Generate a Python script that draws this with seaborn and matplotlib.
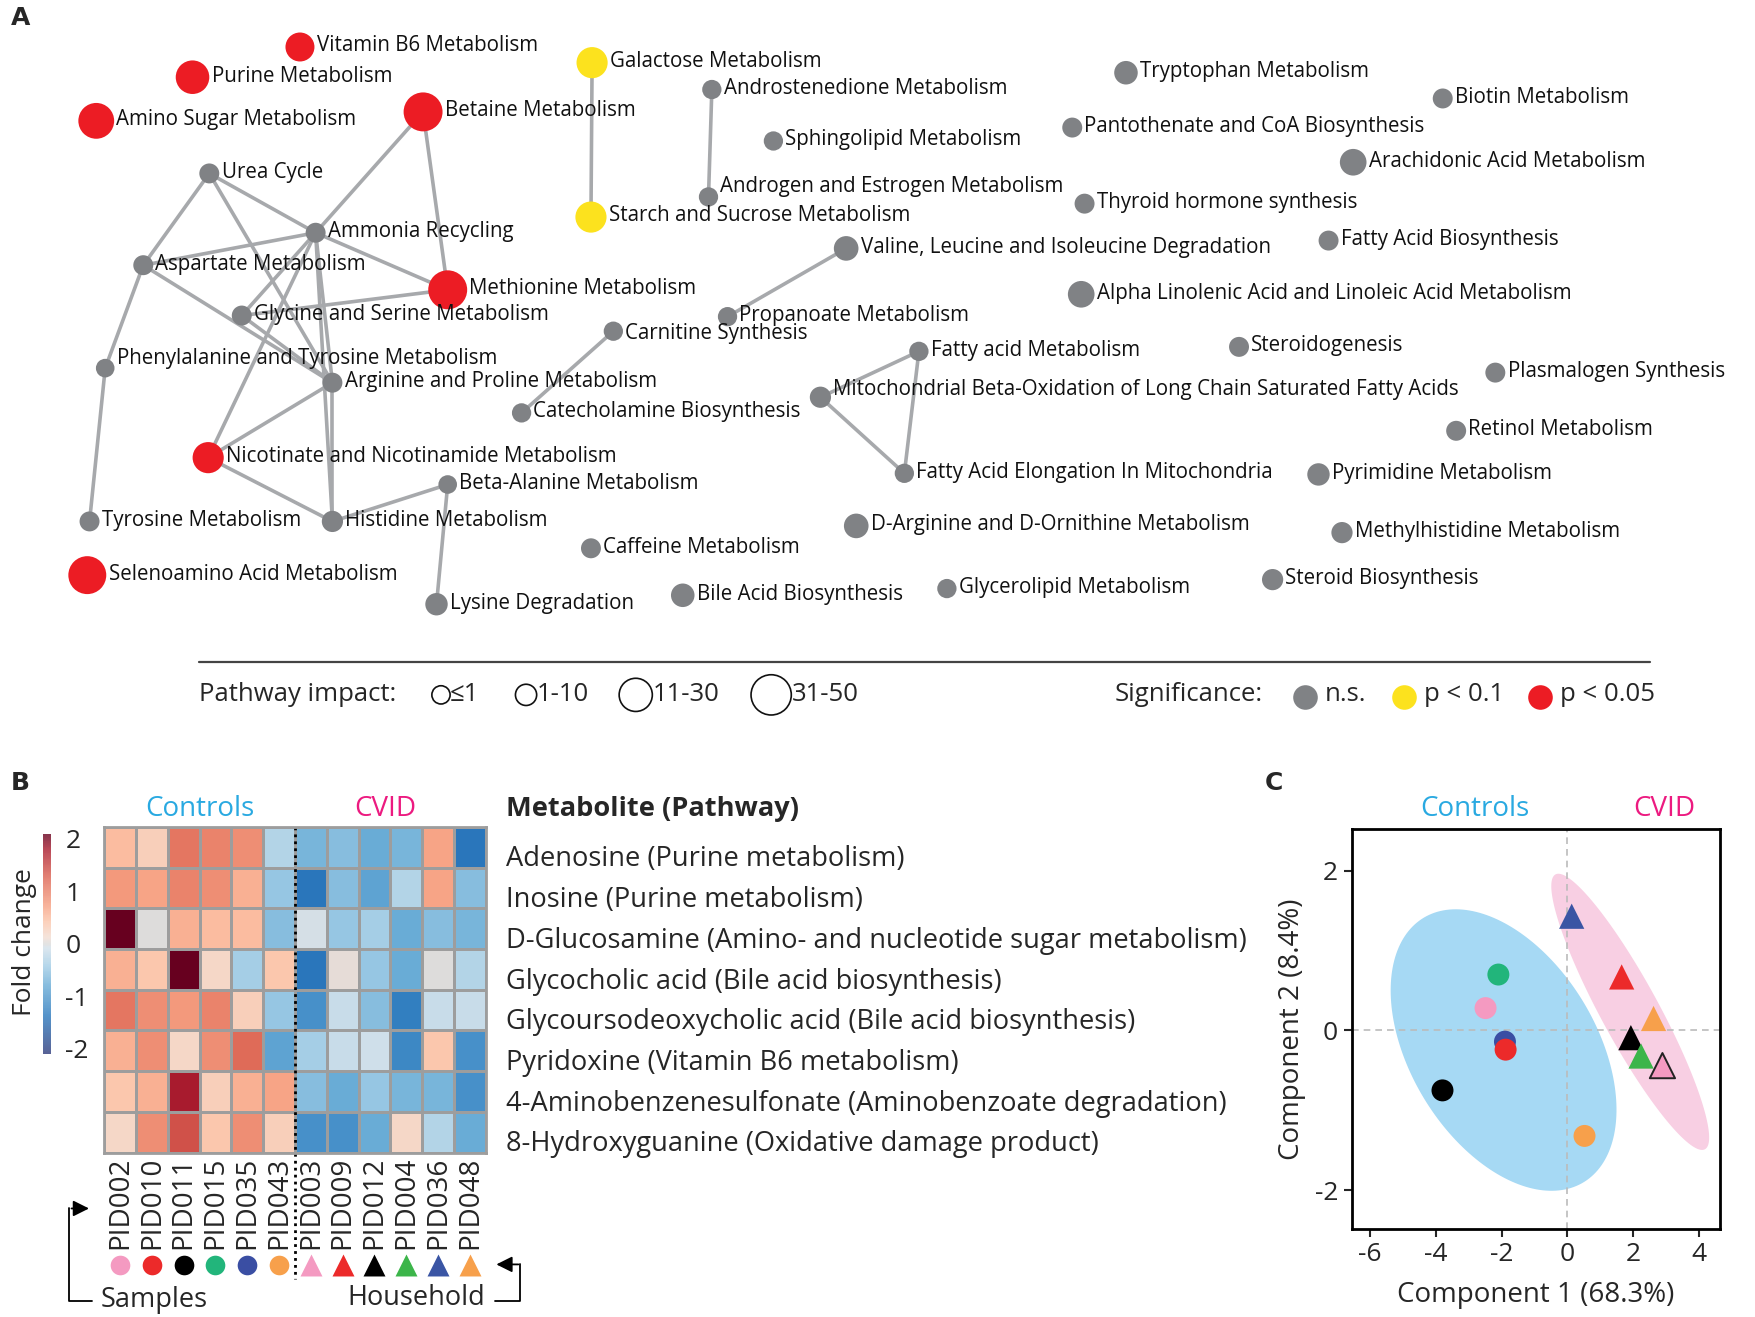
import numpy as np
import pandas as pd
import matplotlib
matplotlib.use("Agg")
import matplotlib.pyplot as plt
from matplotlib.colors import LinearSegmentedColormap
import seaborn as sns

# ---------------- panel A: pathway network ----------------
node_names = ["Vitamin B6 Metabolism", "Purine Metabolism", "Amino Sugar Metabolism", "Betaine Metabolism",
              "Methionine Metabolism", "Nicotinate and Nicotinamide Metabolism", "Selenoamino Acid Metabolism",
              "Galactose Metabolism", "Starch and Sucrose Metabolism",
              "Urea Cycle", "Ammonia Recycling", "Aspartate Metabolism", "Glycine and Serine Metabolism",
              "Phenylalanine and Tyrosine Metabolism", "Arginine and Proline Metabolism", "Tyrosine Metabolism",
              "Histidine Metabolism", "Beta-Alanine Metabolism", "Lysine Degradation", "Caffeine Metabolism",
              "Bile Acid Biosynthesis", "Carnitine Synthesis", "Catecholamine Biosynthesis",
              "Androstenedione Metabolism", "Sphingolipid Metabolism", "Androgen and Estrogen Metabolism",
              "Valine, Leucine and Isoleucine Degradation", "Propanoate Metabolism", "Fatty acid Metabolism",
              "Mitochondrial Beta-Oxidation of Long Chain Saturated Fatty Acids",
              "Fatty Acid Elongation In Mitochondria", "D-Arginine and D-Ornithine Metabolism",
              "Glycerolipid Metabolism", "Tryptophan Metabolism", "Pantothenate and CoA Biosynthesis",
              "Thyroid hormone synthesis", "Alpha Linolenic Acid and Linoleic Acid Metabolism", "Steroidogenesis",
              "Biotin Metabolism", "Arachidonic Acid Metabolism", "Fatty Acid Biosynthesis",
              "Plasmalogen Synthesis", "Retinol Metabolism", "Pyrimidine Metabolism",
              "Methylhistidine Metabolism", "Steroid Biosynthesis"]
node_x = [268, 172, 86, 378, 400, 186, 78, 529, 528, 187, 282, 128, 216, 94, 297, 80, 297, 400, 390, 528,
          610, 548, 466, 636, 691, 633, 756, 650, 821, 733, 808, 765, 846, 1006, 958, 969, 966, 1107, 1289,
          1209, 1187, 1336, 1301, 1178, 1199, 1137]
node_y = [42, 69, 108, 100, 259, 409, 514, 56, 194, 155, 208, 237, 282, 329, 342, 466, 466, 433, 540, 490,
          532, 296, 369, 80, 126, 176, 222, 283, 314, 355, 423, 470, 526, 65, 114, 182, 263, 310, 88, 145,
          215, 333, 385, 424, 476, 518]
node_impact = [20, 31, 37, 46, 46, 25, 43, 25, 25, 3, 3, 3, 3, 1, 3, 3, 5, 1, 7, 3,
               9, 2, 2, 2, 2, 2, 11, 2, 2, 5, 2, 11, 2, 9, 3, 3, 15, 3, 3, 15,
               3, 3, 3, 7, 5, 5]
node_sig = ["p < 0.05"] * 7 + ["p < 0.1"] * 2 + ["n.s."] * 37
edges = [("Galactose Metabolism", "Starch and Sucrose Metabolism"),
         ("Androstenedione Metabolism", "Androgen and Estrogen Metabolism"),
         ("Carnitine Synthesis", "Catecholamine Biosynthesis"),
         ("Valine, Leucine and Isoleucine Degradation", "Propanoate Metabolism"),
         ("Fatty acid Metabolism", "Mitochondrial Beta-Oxidation of Long Chain Saturated Fatty Acids"),
         ("Mitochondrial Beta-Oxidation of Long Chain Saturated Fatty Acids", "Fatty Acid Elongation In Mitochondria"),
         ("Fatty acid Metabolism", "Fatty Acid Elongation In Mitochondria"),
         ("Beta-Alanine Metabolism", "Histidine Metabolism"),
         ("Beta-Alanine Metabolism", "Lysine Degradation"),
         ("Betaine Metabolism", "Ammonia Recycling"),
         ("Betaine Metabolism", "Methionine Metabolism"),
         ("Urea Cycle", "Aspartate Metabolism"),
         ("Urea Cycle", "Ammonia Recycling"),
         ("Urea Cycle", "Arginine and Proline Metabolism"),
         ("Ammonia Recycling", "Aspartate Metabolism"),
         ("Ammonia Recycling", "Methionine Metabolism"),
         ("Ammonia Recycling", "Glycine and Serine Metabolism"),
         ("Ammonia Recycling", "Arginine and Proline Metabolism"),
         ("Ammonia Recycling", "Histidine Metabolism"),
         ("Ammonia Recycling", "Nicotinate and Nicotinamide Metabolism"),
         ("Aspartate Metabolism", "Phenylalanine and Tyrosine Metabolism"),
         ("Aspartate Metabolism", "Arginine and Proline Metabolism"),
         ("Glycine and Serine Metabolism", "Methionine Metabolism"),
         ("Glycine and Serine Metabolism", "Arginine and Proline Metabolism"),
         ("Phenylalanine and Tyrosine Metabolism", "Tyrosine Metabolism"),
         ("Arginine and Proline Metabolism", "Nicotinate and Nicotinamide Metabolism"),
         ("Arginine and Proline Metabolism", "Histidine Metabolism"),
         ("Nicotinate and Nicotinamide Metabolism", "Histidine Metabolism")]
impact_labels = ["\u22641", "1-10", "11-30", "31-50"]
impact_legend_values = [0.5, 5, 30, 50]
sig_levels = ["n.s.", "p < 0.1", "p < 0.05"]
sig_colors = {"n.s.": "#808285", "p < 0.1": "#fce21e", "p < 0.05": "#ec1c24"}

# ---------------- panel B: heatmap ----------------
metabolites = ["Adenosine (Purine metabolism)", "Inosine (Purine metabolism)",
               "D-Glucosamine (Amino- and nucleotide sugar metabolism)", "Glycocholic acid (Bile acid biosynthesis)",
               "Glycoursodeoxycholic acid (Bile acid biosynthesis)", "Pyridoxine (Vitamin B6 metabolism)",
               "4-Aminobenzenesulfonate (Aminobenzoate degradation)", "8-Hydroxyguanine (Oxidative damage product)"]
samples = ["PID002", "PID010", "PID011", "PID015", "PID035", "PID043",
           "PID003", "PID009", "PID012", "PID004", "PID036", "PID048"]
sample_group = ["Controls"] * 6 + ["CVID"] * 6
sample_colors = ["#f49ac1", "#ec2a2a", "#000000", "#22b57b", "#3a4ea3", "#f7a04b",
                 "#f49ac1", "#ec2a2a", "#000000", "#3cb54a", "#3a55a4", "#f7a04b"]
fold_change = [
    [0.5, 0.3, 1.1, 1.0, 0.9, -0.3, -0.7, -0.6, -0.8, -0.7, 0.7, -1.4],
    [0.8, 0.7, 1.0, 0.9, 0.6, -0.5, -1.4, -0.6, -0.9, -0.3, 0.7, -0.6],
    [2.4, 0.0, 0.6, 0.5, 0.5, -0.6, -0.05, -0.5, -0.4, -0.8, -0.6, -0.7],
    [0.6, 0.4, 2.2, 0.2, -0.4, 0.4, -1.4, 0.05, -0.5, -0.8, 0.0, -0.3],
    [1.1, 0.9, 0.8, 1.0, 0.3, -0.5, -1.1, -0.15, -0.6, -1.3, -0.15, -0.15],
    [0.6, 0.9, 0.2, 0.9, 1.2, -0.9, -0.4, -0.15, -0.1, -1.2, 0.4, -1.1],
    [0.4, 0.6, 1.8, 0.3, 0.6, 0.7, -0.6, -0.8, -0.5, -0.7, -0.7, -1.1],
    [0.2, 0.9, 1.4, 0.4, 0.9, 0.3, -1.1, -1.1, -0.8, 0.2, -0.3, -0.8],
]

# ---------------- panel C: PCA ----------------
pca_samples = ["PID002", "PID011", "PID015", "PID035", "PID010", "PID043",
               "PID036", "PID009", "PID048", "PID012", "PID004", "PID003"]
pca_pc1 = [-2.49, -3.80, -2.10, -1.90, -1.88, 0.52, 0.13, 1.65, 2.62, 1.93, 2.24, 2.89]
pca_pc2 = [0.28, -0.75, 0.70, -0.14, -0.24, -1.32, 1.43, 0.67, 0.15, -0.09, -0.32, -0.44]

sns.set_theme(style="white")
plt.rcParams["font.family"] = ["Open Sans", "DejaVu Sans"]
plt.rcParams["axes.unicode_minus"] = False

W, H = 1568, 1177  # layout grid in reference pixels
fig = plt.figure(figsize=(17.55, 13.17), dpi=100)

# background axes in pixel units, used for panel A and free annotations
axA = fig.add_axes([0, 0, 1, 1])
axA.set_xlim(0, W)
axA.set_ylim(H, 0)
axA.axis("off")


def node_radius(imp):
    # matches seaborn sizes=(166, 840), size_norm=(0, 50)
    return np.sqrt(166 + 674 * np.asarray(imp) / 50) / 1.61


nodes = pd.DataFrame({"name": node_names, "x": node_x, "y": node_y,
                      "impact": node_impact, "sig": node_sig})
pos = nodes.set_index("name")

for a, b in edges:
    axA.plot([pos.loc[a, "x"], pos.loc[b, "x"]], [pos.loc[a, "y"], pos.loc[b, "y"]],
             color="#a7a9ac", lw=2.6, zorder=1, solid_capstyle="round")

sns.scatterplot(data=nodes, x="x", y="y", hue="sig", palette=sig_colors, size="impact",
                sizes=(166, 840), size_norm=(0, 50), linewidth=0, legend=False, ax=axA, zorder=2)
axA.set_xlim(0, W)
axA.set_ylim(H, 0)
axA.set_xlabel("")
axA.set_ylabel("")

label_dy = {"Androgen and Estrogen Metabolism": -8,
            "Mitochondrial Beta-Oxidation of Long Chain Saturated Fatty Acids": -6,
            "Phenylalanine and Tyrosine Metabolism": -8,
            "Arginine and Proline Metabolism": 0,
            "Carnitine Synthesis": 3}
for _, r in nodes.iterrows():
    rad = node_radius(r["impact"])
    axA.text(r["x"] + rad + 2, r["y"] - 1 + label_dy.get(r["name"], 0), r["name"],
             fontsize=14.8, va="center", ha="left", color="#111111", zorder=3)

# legend of panel A
axA.plot([178, 1474], [592, 592], color="#444444", lw=1.6)
axA.text(178, 621, "Pathway impact:", fontsize=18.5, va="center")
leg_x = [394, 470, 568, 689]
for lx, lab, val in zip(leg_x, impact_labels, impact_legend_values):
    rad = node_radius(val)
    axA.scatter([lx], [621], s=(rad * 1.61) ** 2, facecolors="none", edgecolors="#111111", linewidths=1.2)
    axA.text(lx + rad, 621, lab, fontsize=18.5, va="center")
axA.text(996, 621, "Significance:", fontsize=18.5, va="center")
for lx, lab in zip([1166, 1254, 1376], sig_levels):
    axA.scatter([lx], [623], s=(11 * 1.61) ** 2, color=sig_colors[lab], linewidths=0)
    axA.text(lx + 18, 621, lab, fontsize=18.5, va="center")

# panel letters
for lx, ly, lab in [(10, 16, "A"), (10, 700, "B"), (1130, 700, "C")]:
    axA.text(lx, ly, lab, fontsize=18, fontweight="bold", va="center", ha="left", family="DejaVu Sans")

# ---------------- panel B ----------------
fc_cmap = LinearSegmentedColormap.from_list("fc", [
    (0.00, "#2e3b7c"), (0.17, "#2a78bd"), (0.31, "#69acd6"), (0.40, "#a3cde6"),
    (0.48, "#d2e0ea"), (0.50, "#dcdcdc"), (0.53, "#f2ddd2"), (0.60, "#fcc6ab"),
    (0.67, "#f7a284"), (0.74, "#e9826a"), (0.81, "#db6050"), (0.93, "#a81b2e"), (1.00, "#67001f")])

hm = pd.DataFrame(fold_change, index=metabolites, columns=samples)
axB = fig.add_axes([93 / W, 1 - 1030 / H, 341 / W, 291 / H])
cax = fig.add_axes([38 / W, 1 - 942 / H, 8 / W, 197 / H])
sns.heatmap(hm, cmap=fc_cmap, vmin=-2.1, vmax=2.1, linewidths=2, linecolor="#9d9d9d",
            cbar_ax=cax, cbar_kws={"ticks": [-2, -1, 0, 1, 2]}, yticklabels=False, ax=axB)
for sp in axB.spines.values():
    sp.set_visible(True)
    sp.set_color("#9d9d9d")
    sp.set_linewidth(2)
axB.set_xticks(np.arange(len(samples)) + 0.5)
axB.set_xticklabels(samples, rotation=90, fontsize=20)
axB.tick_params(axis="x", length=0, pad=3)
axB.set_ylabel("")
axB.set_xlabel("")

cbar = axB.collections[0].colorbar
cbar.outline.set_visible(False)
cbar.solids.set_alpha(0.8)
cax.tick_params(length=0, labelsize=19, pad=10)
fig.text(22 / W, 1 - 842 / H, "Fold change", rotation=90, fontsize=19, ha="center", va="center")

# sample markers under column labels
mark_y = 10.77
for i, (smp, grp, col) in enumerate(zip(samples, sample_group, sample_colors)):
    if grp == "Controls":
        axB.scatter([i + 0.5], [mark_y], s=200, marker="o", color=col, linewidths=0, clip_on=False)
    else:
        axB.scatter([i + 0.5], [mark_y], s=250, marker="^", color=col, linewidths=0, clip_on=False)
axB.plot([6, 6], [0, 11.1], ls=(0, (1, 1.5)), color="black", lw=2, clip_on=False)
axB.set_xlim(0, len(samples))
axB.set_ylim(len(metabolites), 0)

for i, met in enumerate(metabolites):
    axB.text(12.64, i + 0.8, met, fontsize=19.6, va="center", ha="left", clip_on=False)
axB.text(12.64, -0.45, "Metabolite (Pathway)", fontsize=19.6, fontweight="bold", va="center", ha="left")
axB.text(3, -0.45, "Controls", fontsize=20, color="#29a9e1", ha="center", va="center")
axB.text(8.85, -0.45, "CVID", fontsize=20, color="#ec1a80", ha="center", va="center")

# brackets for Samples / Household
axA.plot([62, 62, 82], [1080, 1163, 1163], color="black", lw=1.3)
axA.annotate("", xy=(82, 1080), xytext=(61.4, 1080),
             arrowprops=dict(arrowstyle="-|>,head_length=0.8,head_width=0.4", color="black", lw=1.3))
axA.text(90, 1162, "Samples", fontsize=19.5, va="center", ha="left")
axA.plot([465, 465, 442], [1130, 1163, 1163], color="black", lw=1.3)
axA.annotate("", xy=(441, 1130), xytext=(465.6, 1130),
             arrowprops=dict(arrowstyle="-|>,head_length=0.8,head_width=0.4", color="black", lw=1.3))
axA.text(433, 1160, "Household", fontsize=19.5, va="center", ha="right")

# ---------------- panel C ----------------
pca = pd.DataFrame({"sample": pca_samples, "pc1": pca_pc1, "pc2": pca_pc2})
grp_map = dict(zip(samples, sample_group))
col_map = dict(zip(samples, sample_colors))
pca["group"] = pca["sample"].map(grp_map)

axC = fig.add_axes([1208 / W, 1 - 1098 / H, 329 / W, 357 / H])


def conf_ellipse(x, y, chi2=5.991, n=200):
    pts = np.column_stack([x, y])
    mu = pts.mean(axis=0)
    cov = np.cov(pts, rowvar=False)
    vals, vecs = np.linalg.eigh(cov)
    t = np.linspace(0, 2 * np.pi, n)
    circ = np.column_stack([np.cos(t), np.sin(t)]) * np.sqrt(vals * chi2)
    return mu + circ @ vecs.T


for grp, fc in [("Controls", "#a6d9f4"), ("CVID", "#f8cfe3")]:
    sub = pca[pca["group"] == grp]
    ell = conf_ellipse(sub["pc1"].values, sub["pc2"].values)
    axC.fill(ell[:, 0], ell[:, 1], color=fc, lw=0, zorder=0)

axC.axhline(0, color="#bbbbbb", ls=(0, (4, 3)), lw=1.2, zorder=1)
axC.axvline(0, color="#bbbbbb", ls=(0, (4, 3)), lw=1.2, zorder=1)

sns.scatterplot(data=pca[pca["group"] == "Controls"], x="pc1", y="pc2", hue="sample", palette=col_map,
                marker="o", s=250, linewidth=0, legend=False, ax=axC, zorder=3)
sns.scatterplot(data=pca[pca["group"] == "CVID"], x="pc1", y="pc2", hue="sample", palette=col_map,
                marker="^", s=330, linewidth=0, legend=False, ax=axC, zorder=3)
pink = pca[pca["sample"] == "PID003"]
axC.scatter(pink["pc1"], pink["pc2"], marker="^", s=330, facecolors="none", edgecolors="#222222",
            linewidths=1.4, zorder=4)

axC.set_xlim(-6.55, 4.65)
axC.set_ylim(-2.48, 2.52)
axC.set_xticks([-6, -4, -2, 0, 2, 4])
axC.set_yticks([-2, 0, 2])
axC.tick_params(labelsize=19, length=6, width=1.5, direction="out", left=True, bottom=True, pad=4)
for sp in axC.spines.values():
    sp.set_visible(True)
    sp.set_color("black")
    sp.set_linewidth(2)
axC.set_xlabel("Component 1 (68.3%)", fontsize=20, labelpad=10)
axC.set_ylabel("Component 2 (8.4%)", fontsize=20, labelpad=6)
axA.text(1318, 723, "Controls", fontsize=20, color="#29a9e1", ha="center", va="center")
axA.text(1487, 723, "CVID", fontsize=20, color="#ec1a80", ha="center", va="center")

fig.savefig("out.png", dpi=100)
